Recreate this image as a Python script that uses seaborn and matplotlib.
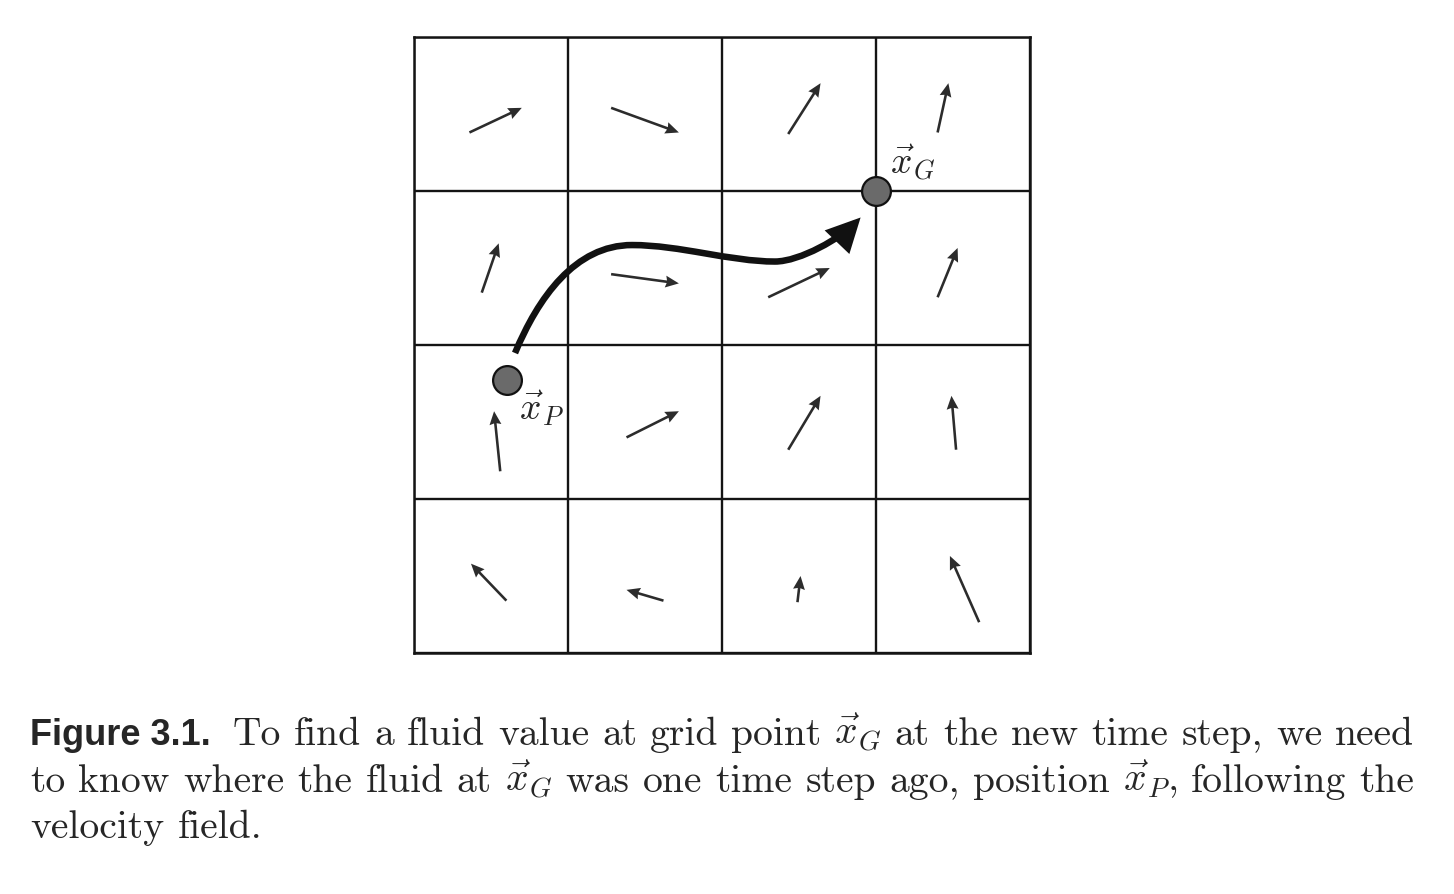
import matplotlib
matplotlib.use("Agg")
import matplotlib.pyplot as plt
import seaborn as sns
from matplotlib.path import Path
from matplotlib.patches import FancyArrowPatch

# velocity samples, one arrow per grid cell (tail -> tip), in cell units
tail_x = [0.36, 1.28, 2.43, 3.40,
          0.44, 1.28, 2.30, 3.40,
          0.56, 1.38, 2.43, 3.52,
          0.60, 1.62, 2.49, 3.67]
tail_y = [3.38, 3.54, 3.37, 3.38,
          2.34, 2.46, 2.31, 2.31,
          1.18, 1.40, 1.32, 1.32,
          0.34, 0.34, 0.33, 0.20]
tip_x = [0.70, 1.72, 2.64, 3.47,
         0.55, 1.72, 2.70, 3.53,
         0.52, 1.72, 2.64, 3.49,
         0.37, 1.38, 2.51, 3.48]
tip_y = [3.54, 3.38, 3.70, 3.70,
         2.66, 2.40, 2.50, 2.63,
         1.57, 1.57, 1.67, 1.67,
         0.58, 0.41, 0.50, 0.63]

# grid point x_G and back-traced particle x_P
point_x = [3.0, 0.604]
point_y = [3.0, 1.773]
point_labels = [r"$\vec{x}_G$", r"$\vec{x}_P$"]

# backward trajectory from x_P to x_G (cubic bezier control points)
path_x = [0.656, 0.805, 1.045, 1.416, 1.727, 2.052, 2.344, 2.506, 2.773, 2.900]
path_y = [1.948, 2.305, 2.649, 2.649, 2.649, 2.542, 2.542, 2.542, 2.695, 2.828]

caption_head = "Figure 3.1."
caption_lines = [
    ["To", "find", "a", "fluid", "value", "at", "grid", "point", r"$\vec{x}_G$",
     "at", "the", "new", "time", "step,", "we", "need"],
    ["to", "know", "where", "the", "fluid", "at", r"$\vec{x}_G$", "was", "one",
     "time", "step", "ago,", "position", r"$\vec{x}_P$,", "following", "the"],
    ["velocity", "field."],
]

sns.set_style("white")
plt.rcParams["mathtext.fontset"] = "cm"

W, H = 1454, 894
fig = plt.figure(figsize=(W / 100, H / 100), dpi=100)
ax = fig.add_axes([414 / W, 1 - 653 / H, 616 / W, 616 / H])
ax.set_xlim(0, 4)
ax.set_ylim(0, 4)
ax.set_xticks(range(5))
ax.set_yticks(range(5))
ax.tick_params(length=0, labelbottom=False, labelleft=False)
ax.grid(True, color="#141414", lw=1.7)
ax.set_axisbelow(True)
for sp in ax.spines.values():
    sp.set_color("#141414")
    sp.set_linewidth(1.8)

u = [b - a for a, b in zip(tail_x, tip_x)]
v = [b - a for a, b in zip(tail_y, tip_y)]
ax.quiver(tail_x, tail_y, u, v, angles="xy", scale_units="xy", scale=1,
          color="#2c2c2c", width=0.0042, headwidth=4.6, headlength=5.2,
          headaxislength=4.7, zorder=3)

codes = [Path.MOVETO] + [Path.CURVE4] * (len(path_x) - 1)
traj = FancyArrowPatch(path=Path(list(zip(path_x, path_y)), codes),
                       arrowstyle="-|>,head_length=17,head_width=8.5",
                       lw=4.7, color="#111111", joinstyle="miter",
                       capstyle="butt", zorder=4)
ax.add_patch(traj)

sns.scatterplot(x=point_x, y=point_y, s=430, color="#6a6a6a",
                edgecolor="#111111", linewidth=1.6, zorder=5, ax=ax,
                legend=False)
for (px, py, lab), (dx, dy) in zip(zip(point_x, point_y, point_labels),
                                   [(0.09, 0.11), (0.078, -0.26)]):
    ax.text(px + dx, py + dy, lab, fontsize=27, ha="left", va="baseline",
            zorder=6)

# caption, justified like the book text
cap_kw = dict(family="cmr10", fontsize=28.5, va="baseline", ha="left")
head_kw = dict(family=["Liberation Sans", "DejaVu Sans"], fontweight="bold",
               fontsize=26, va="baseline", ha="left")
left, right = 30, 1414
baselines = [745, 791.5, 838]
renderer = fig.canvas.get_renderer()
for i, words in enumerate(caption_lines):
    yb = 1 - baselines[i] / H
    start = left
    if i == 0:
        head = fig.text(left / W, yb, caption_head, **head_kw)
        start = left + head.get_window_extent(renderer).width + 22
    items = [fig.text(0, yb, w, **cap_kw) for w in words]
    widths = [t.get_window_extent(renderer).width for t in items]
    if i < len(caption_lines) - 1:
        gap = (right - start - sum(widths)) / (len(items) - 1)
    else:
        gap = 28.5 * 0.333 * 100 / 72
    x = start
    for t, w in zip(items, widths):
        t.set_x(x / W)
        x += w + gap

fig.savefig("out.png", dpi=100, facecolor="white")
